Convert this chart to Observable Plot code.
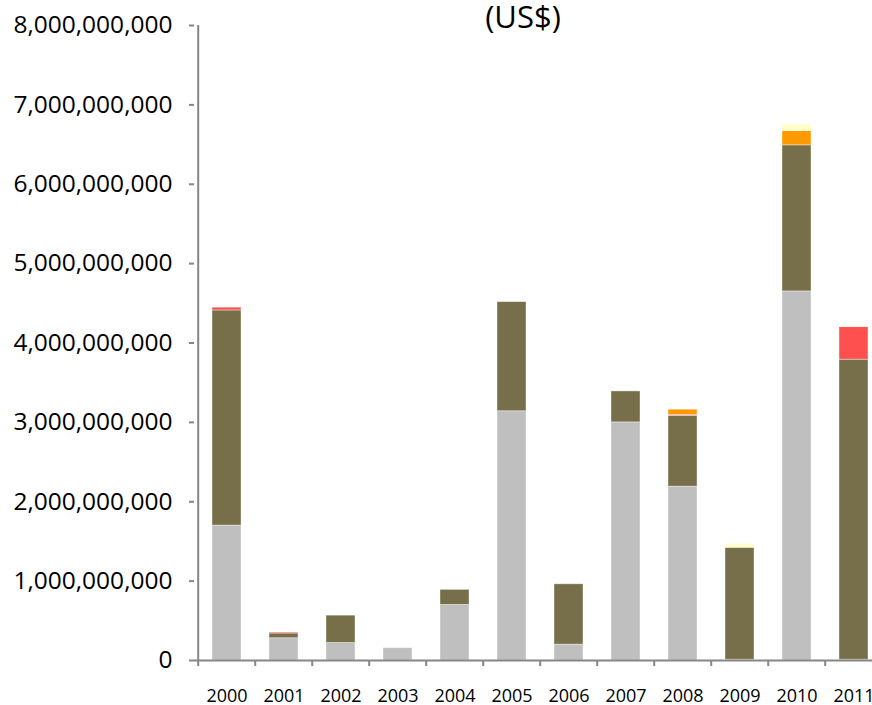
<!DOCTYPE html>
<html>
<head>
<meta charset="utf-8">
<script src="https://cdn.jsdelivr.net/npm/d3@7"></script>
<script src="https://cdn.jsdelivr.net/npm/@observablehq/plot@0.6"></script>
<style>
  html, body { margin: 0; padding: 0; background: #fff; overflow: hidden; width: 872px; height: 705px; }
  #wrap { position: relative; width: 872px; height: 705px; overflow: hidden; }
  #title { position: absolute; left: 373px; width: 300px; top: 1px; line-height: 31px; text-align: center;
           font-family: "Open Sans", sans-serif; font-size: 31px; color: #000; z-index: 2; }
  #chart { position: absolute; left: 0; top: 0; width: 884px; }
  #chart svg { max-width: none !important; }
</style>
</head>
<body>
<div id="wrap">
  <div id="title">(US$)</div>
  <div id="chart"></div>
</div>
<script>
const years = ["2000","2001","2002","2003","2004","2005","2006","2007","2008","2009","2010","2011"];
const seriesNames = ["Series 1","Series 2","Series 3","Series 4","Series 5"];
const seriesColors = ["#BFBFBF","#766F4A","#FF5050","#FF9900","#FFFFCC"];
const series1 = [1.70e9, 0.28e9, 0.22e9, 0.155e9, 0.70e9, 3.14e9, 0.20e9, 3.00e9, 2.19e9, 0.01e9, 4.65e9, 0.01e9];
const series2 = [2.71e9, 0.06e9, 0.345e9, 0, 0.19e9, 1.375e9, 0.76e9, 0.39e9, 0.89e9, 1.41e9, 1.84e9, 3.78e9];
const series3 = [0.035e9, 0.012e9, 0, 0, 0, 0, 0, 0, 0.015e9, 0, 0, 0.41e9];
const series4 = [0, 0, 0, 0, 0, 0, 0, 0, 0.065e9, 0, 0.18e9, 0];
const series5 = [0, 0, 0, 0, 0, 0, 0, 0, 0, 0.05e9, 0.085e9, 0.005e9];
const yTicks = [0, 1e9, 2e9, 3e9, 4e9, 5e9, 6e9, 7e9, 8e9];

const allSeries = [series1, series2, series3, series4, series5];
const rows = [];
years.forEach((yr, i) => {
  allSeries.forEach((s, k) => {
    rows.push({year: yr, series: seriesNames[k], value: s[i]});
  });
});

const axisColor = "#868686";
const step = 57.6;

const chart = Plot.plot({
  width: 885,
  height: 705,
  marginLeft: 194,
  marginRight: 0,
  marginTop: 25,
  marginBottom: 45,
  style: {fontFamily: "'Open Sans', sans-serif", background: "white", overflow: "visible", maxWidth: "none"},
  x: {domain: years, paddingInner: 0.5, paddingOuter: 0.25, axis: null, label: null},
  y: {domain: [0, 8e9], axis: null, label: null},
  color: {domain: seriesNames, range: seriesColors},
  marks: [
    Plot.barY(rows, Plot.stackY({
      x: "year", y: "value", fill: "series", order: seriesNames,
      stroke: "white", strokeWidth: 0.8, strokeOpacity: 0.5
    })),
    Plot.ruleY([0], {stroke: axisColor, strokeWidth: 2}),
    Plot.ruleX([years[0]], {y1: 0, y2: 8e9, dx: -step / 2, stroke: axisColor, strokeWidth: 2}),
    Plot.axisY({
      ticks: yTicks, tickFormat: d3.format(","), tickSize: 5, tickPadding: 17, label: null,
      fontSize: 24.5, stroke: axisColor, strokeWidth: 2, color: "#000"
    }),
    Plot.axisX({tickSize: 6, dx: -step / 2, tickFormat: () => "", label: null, stroke: axisColor, strokeWidth: 2}),
    Plot.axisX({tickSize: 0, tickPadding: 0, dy: 29, fontSize: 18, fill: "#000", label: null})
  ]
});
document.getElementById("chart").appendChild(chart);
</script>
</body>
</html>
